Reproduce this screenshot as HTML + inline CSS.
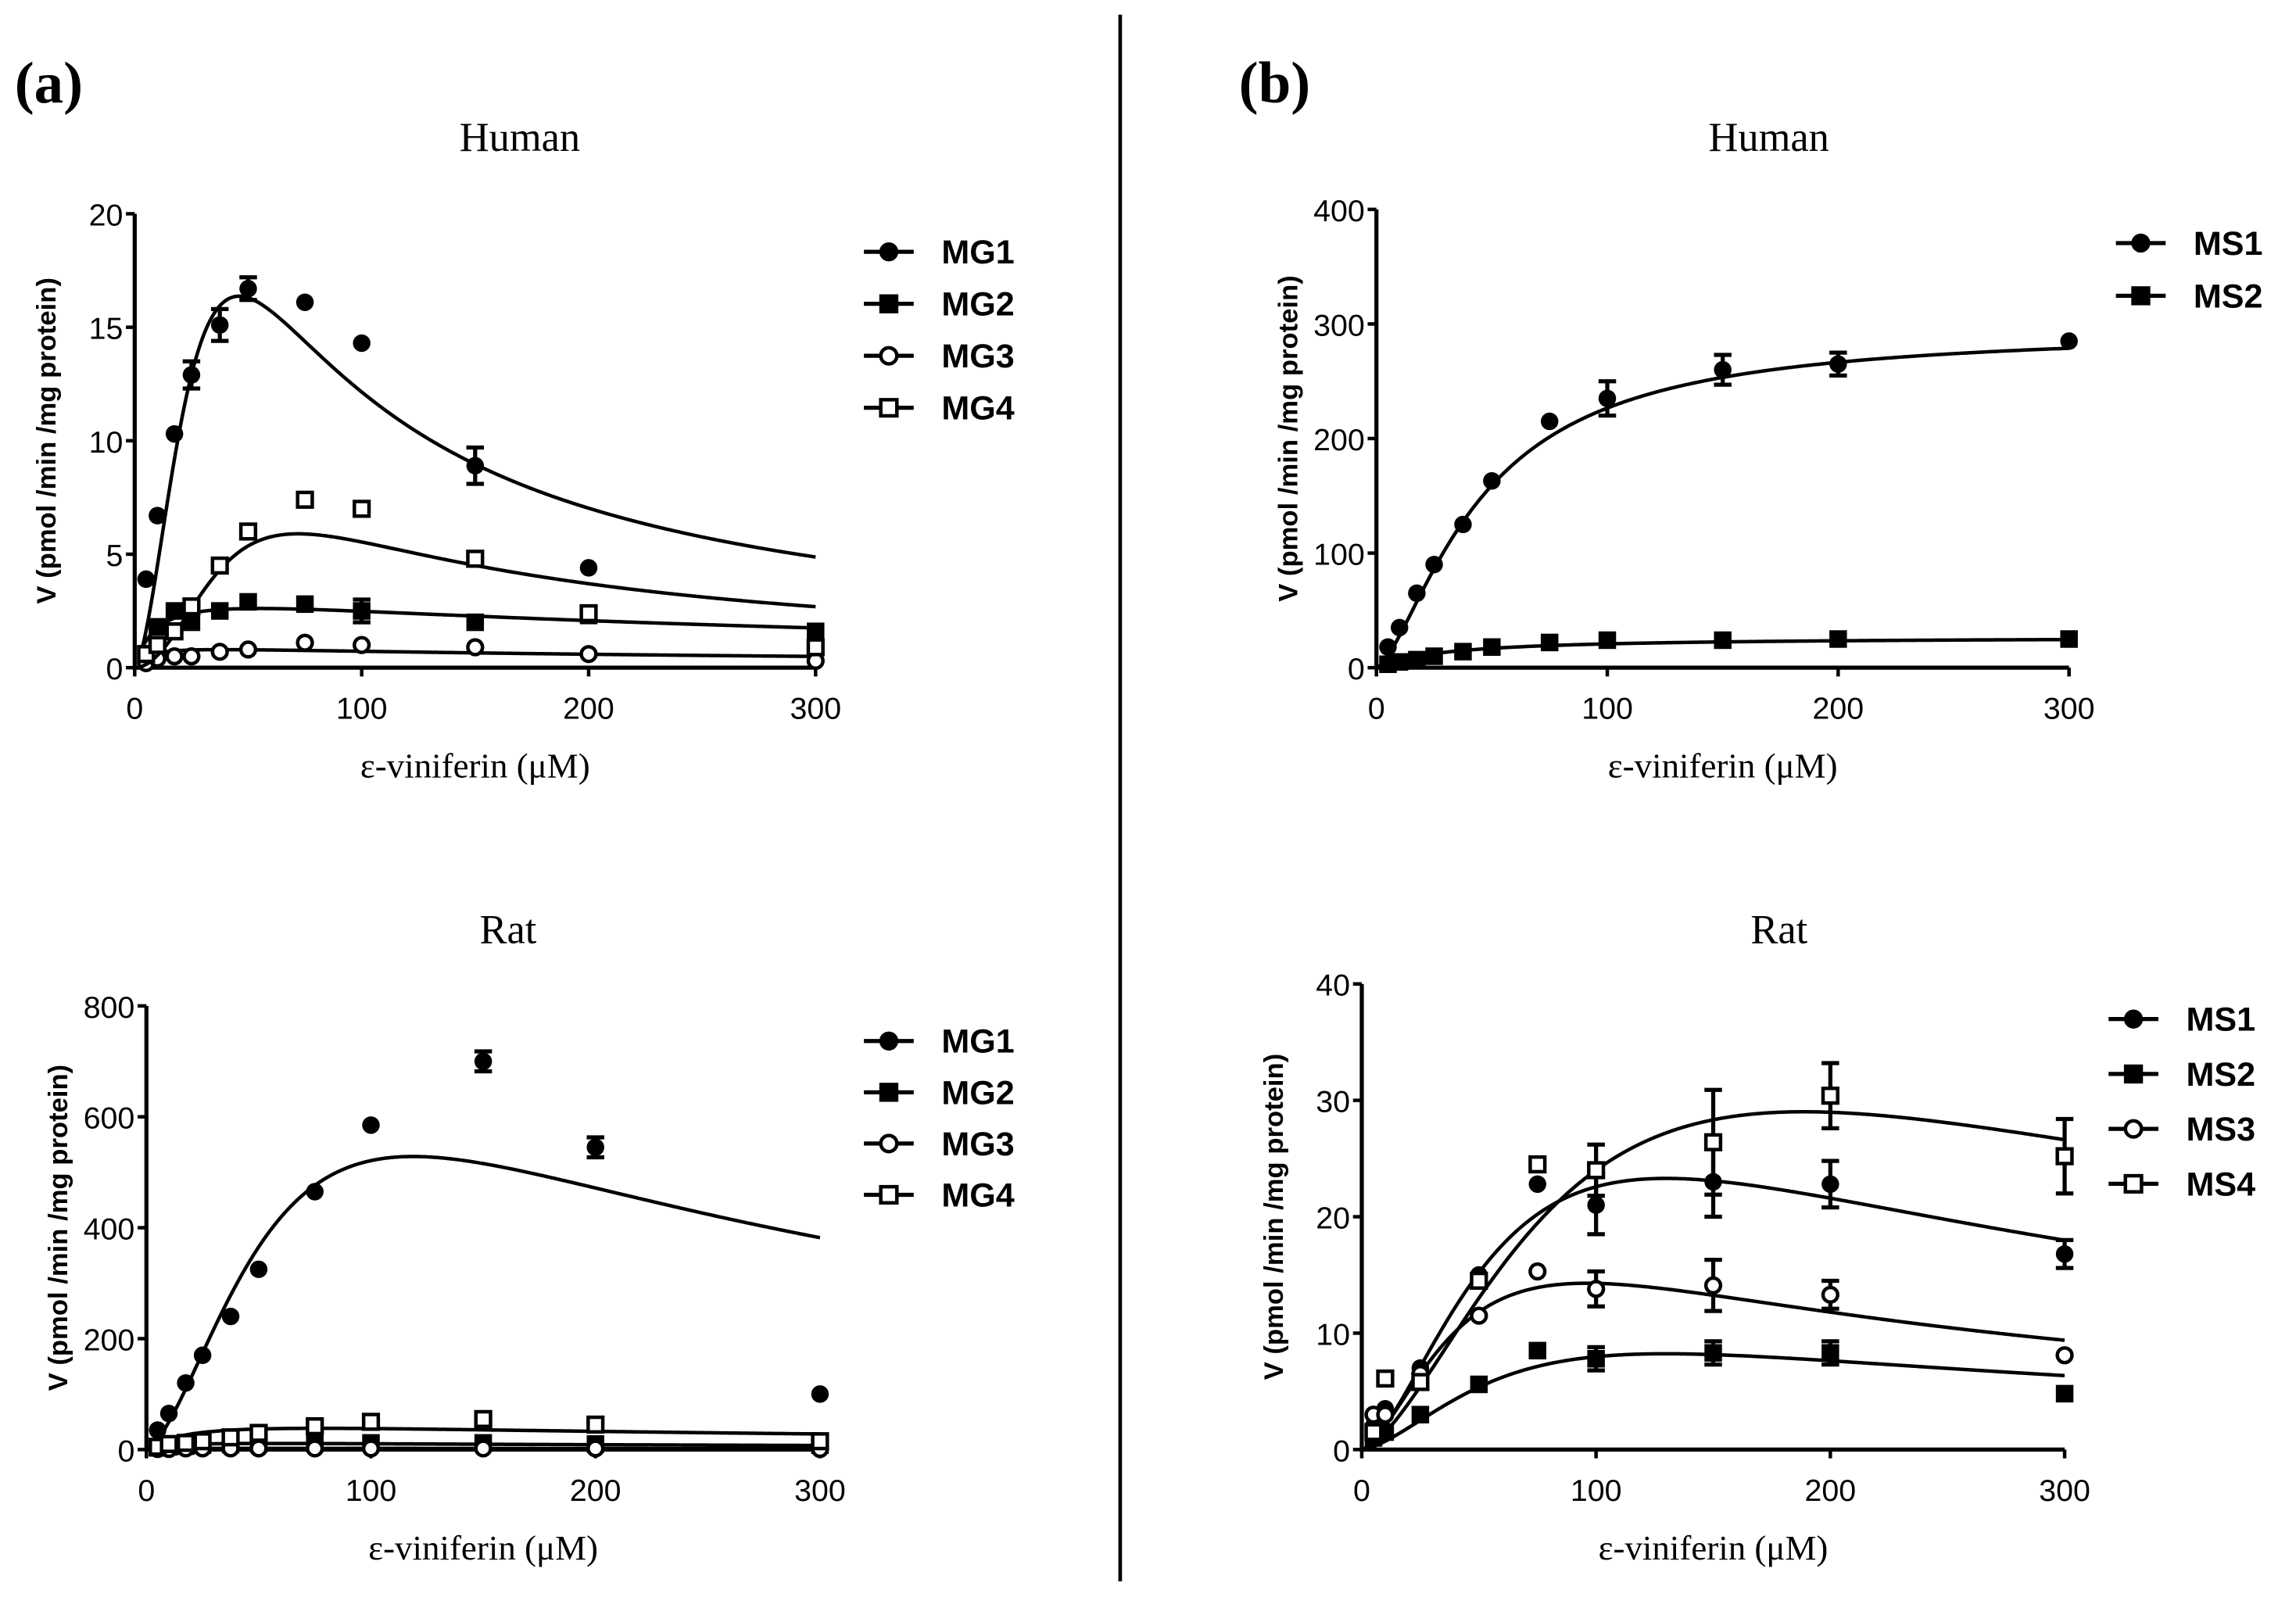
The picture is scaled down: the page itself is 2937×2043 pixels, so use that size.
<!DOCTYPE html>
<html><head><meta charset="utf-8"><style>
html,body{margin:0;padding:0;background:#fff;}
svg{display:block;}
.tick{font-family:"Liberation Sans",sans-serif;font-size:21px;}
.ser{font-family:"Liberation Serif",serif;}
.leg{font-family:"Liberation Sans",sans-serif;font-size:23px;font-weight:bold;}
.ytl{font-family:"Liberation Sans",sans-serif;font-size:18.5px;font-weight:bold;}
</style></head><body>
<svg id="fig" width="2937" height="2043" viewBox="0 0 1568 1090.7" xmlns="http://www.w3.org/2000/svg">
<text class="ser" x="10" y="70" font-size="40" font-weight="bold">(a)</text>
<text class="ser" x="846" y="70" font-size="40" font-weight="bold">(b)</text>
<line x1="765" y1="10" x2="765" y2="1080" stroke="#000" stroke-width="2.5"/>
</svg>
<script>
// ---- Panel a Human ----
const aH_x = [5,10,17.5,25,37.5,50,75,100,150,200,300];
const aH_MG1 = [3.9,6.7,10.3,12.9,15.1,16.7,16.1,14.3,8.9,4.4,null];
const aH_MG1_err = [0,0,0,0.6,0.7,0.5,0,0,0.8,0,0];
const aH_MG2 = [0.5,1.8,2.5,2.0,2.5,2.9,2.8,2.5,2.0,2.3,1.6];
const aH_MG2_err = [0,0,0,0,0,0,0,0.5,0,0.2,0];
const aH_MG3 = [0.2,0.4,0.5,0.5,0.7,0.8,1.1,1.0,0.9,0.6,0.3];
const aH_MG4 = [0.6,1.0,1.6,2.7,4.5,6.0,7.4,7.0,4.8,2.4,0.9];
const aH_yticks = [0,5,10,15,20];
// ---- Panel b Human ----
const bH_x = [5,10,17.5,25,37.5,50,75,100,150,200,300];
const bH_MS1 = [18,35,65,90,125,163,215,235,260,265,285];
const bH_MS1_err = [0,0,0,0,0,0,0,15,13,10,0];
const bH_MS2 = [3,5,7,10,14,18,22,24,24,25,25];
const bH_yticks = [0,100,200,300,400];
// ---- Panel a Rat ----
const aR_x = [5,10,17.5,25,37.5,50,75,100,150,200,300];
const aR_MG1 = [35,65,120,170,240,325,465,585,700,545,100];
const aR_MG1_err = [0,0,0,0,0,0,0,0,18,18,0];
const aR_MG2 = [3,5,6,8,9,10,11,12,12,10,8];
const aR_MG3 = [1,1,2,2,2,2,2,2,2,2,1];
const aR_MG4 = [5,10,12,15,22,30,42,50,55,45,15];
const aR_yticks = [0,200,400,600,800];
// ---- Panel b Rat ----
const bR_x = [5,10,25,50,75,100,150,200,300];
const bR_MS1 = [2,3.5,7,15,22.8,21,23,22.8,16.8];
const bR_MS1_err = [0,0,0,0,0,2.5,3,2,1.2];
const bR_MS2 = [1,1.5,3,5.6,8.5,7.8,8.3,8.3,4.8];
const bR_MS2_err = [0,0,0,0,0,1,1,1,0];
const bR_MS3 = [3,3,6.5,11.5,15.3,13.8,14.1,13.3,8.1];
const bR_MS3_err = [0,0,0,0,0,1.5,2.2,1.2,0];
const bR_MS4 = [1.5,6.1,5.8,14.5,24.5,24,26.4,30.4,25.2];
const bR_MS4_err = [0,0,0,0,0,2.2,4.5,2.8,3.2];
const bR_yticks = [0,10,20,30,40];
const xticks = [0,100,200,300];
// fitted model parameters [Vmax, K, n, Ki]
const fit_aH = {MG1:[76.6,58,1.56,20.5],MG2:[3.56,10,1,300],MG3:[1.0,5,1,300],MG4:[18.1,60,1.94,52.7]};
const fit_bH = {MS1:[295,45,1.5,1e9],MS2:[27,30,1,1e9]};
const fit_aR = {MG1:[1400,90,1.5,120],MG2:[15,10,1,300],MG3:[3,10,1,300],MG4:[58,20,1,300]};
const fit_bR = {MS1:[56.9,90,1.5,150],MS2:[20.1,90,1.5,150],MS3:[31.9,60,1.5,130],MS4:[70.5,130,1.5,220]};

const NS='http://www.w3.org/2000/svg';
const svg=document.getElementById('fig');
function mk(tag,attrs,parent){const e=document.createElementNS(NS,tag);for(const k in attrs)e.setAttribute(k,attrs[k]);(parent||svg).appendChild(e);return e;}
function model(p,S){const [V,K,n,Ki]=p;return V/(Math.pow(K/S,n)+1+S/Ki);}
function marker(g,type,cx,cy,size){
  let e;
  if(type==='fc'){e=mk('circle',{cx:cx,cy:cy,r:size,fill:'#000'},g);}
  else if(type==='fs'){e=mk('rect',{x:cx-size,y:cy-size,width:2*size,height:2*size,fill:'#000'},g);}
  else if(type==='oc'){e=mk('circle',{cx:cx,cy:cy,r:size-1,fill:'#fff',stroke:'#000','stroke-width':2.4},g);}
  else {e=mk('rect',{x:cx-size+1,y:cy-size+1,width:2*size-2,height:2*size-2,fill:'#fff',stroke:'#000','stroke-width':2.4},g);}
  return e;
}
function panel(cfg){
  const g=mk('g',{});
  
  
  const X=v=>cfg.x0+(v/300)*(cfg.x1-cfg.x0);
  const Y=v=>cfg.y0-(v/cfg.ymax)*(cfg.y0-cfg.y1);
  const t=mk('text',{class:'ser',x:cfg.tx,y:cfg.ty,'font-size':28,'text-anchor':'middle'},g);t.textContent=cfg.title;
  
  
  const ax=mk('path',{d:`M${cfg.x0} ${cfg.y1} V${cfg.y0} H${cfg.x1}`,fill:'none',stroke:'#000','stroke-width':2.8},g);
  
  
  cfg.yticks.forEach(v=>{
    mk('line',{x1:cfg.x0-6,x2:cfg.x0,y1:Y(v),y2:Y(v),stroke:'#000','stroke-width':2.4},g);
    const l=mk('text',{class:'tick',x:cfg.x0-8,y:Y(v)+8,'text-anchor':'end'},g);l.textContent=v;
    
    
  });
  xticks.forEach(v=>{
    mk('line',{x1:X(v),x2:X(v),y1:cfg.y0,y2:cfg.y0+6,stroke:'#000','stroke-width':2.4},g);
    const l=mk('text',{class:'tick',x:X(v),y:cfg.y0+35,'text-anchor':'middle'},g);l.textContent=v;
    
    
  });
  const xt=mk('text',{class:'ser',x:(cfg.x0+cfg.x1)/2,y:cfg.y0+75,'font-size':24,'text-anchor':'middle'},g);xt.textContent='ε-viniferin (μM)';
  
  
  const yc=(cfg.y0+cfg.y1)/2;
  const yt=mk('text',{class:'ytl',x:0,y:0,'text-anchor':'middle',transform:`translate(${cfg.x0-54},${yc}) rotate(-90)`},g);yt.textContent='V (pmol /min /mg protein)';
  
  
  cfg.series.forEach((s,i)=>{
    const sg=mk('g',{},g);
    
    
    let d='';
    for(let S=cfg.cstart;S<=300;S+=1){const v=model(s.fit,S);d+=(d?'L':'M')+X(S).toFixed(2)+' '+Y(Math.min(v,cfg.ymax)).toFixed(2);}
    const c=mk('path',{d:d,fill:'none',stroke:'#000','stroke-width':2.4},sg);
    
    
    cfg.xs.forEach((xv,j)=>{
      const v=s.y[j]; if(v===null||v===undefined) return;
      const e=s.err?s.err[j]:0;
      if(e>0){
        const eb=mk('path',{d:`M${X(xv)} ${Y(v-e)} V${Y(v+e)} M${X(xv)-6} ${Y(v-e)} H${X(xv)+6} M${X(xv)-6} ${Y(v+e)} H${X(xv)+6}`,stroke:'#000','stroke-width':2.8,fill:'none'},sg);
        
        
      }
      const m=marker(sg,s.type,X(xv),Y(v),6);
      
      
    });
    const ly=cfg.ly+i*cfg.lstep;
    const lg=mk('g',{},g);
    
    
    mk('line',{x1:cfg.lx,x2:cfg.lx+34,y1:ly,y2:ly,stroke:'#000','stroke-width':2.8},lg);
    marker(lg,s.type,cfg.lx+17,ly,6.5);
    const lt=mk('text',{class:'leg',x:cfg.lx+53,y:ly+8},lg);lt.textContent=s.label;
  });
}
panel({name:'chart-a-human',title:'Human',tx:355,ty:103,x0:92,x1:557,y0:456,y1:146,ymax:20,yticks:aH_yticks,xs:aH_x,cstart:2,
  lx:590,ly:172,lstep:35.5,
  series:[{label:'MG1',type:'fc',y:aH_MG1,err:aH_MG1_err,fit:fit_aH.MG1},{label:'MG2',type:'fs',y:aH_MG2,err:aH_MG2_err,fit:fit_aH.MG2},
  {label:'MG3',type:'oc',y:aH_MG3,fit:fit_aH.MG3},{label:'MG4',type:'os',y:aH_MG4,fit:fit_aH.MG4}]});
panel({name:'chart-b-human',title:'Human',tx:1208,ty:103,x0:940,x1:1413,y0:456,y1:143,ymax:400,yticks:bH_yticks,xs:bH_x,cstart:1,
  lx:1445,ly:166,lstep:36,
  series:[{label:'MS1',type:'fc',y:bH_MS1,err:bH_MS1_err,fit:fit_bH.MS1},{label:'MS2',type:'fs',y:bH_MS2,fit:fit_bH.MS2}]});
panel({name:'chart-a-rat',title:'Rat',tx:347,ty:644,x0:100,x1:560,y0:990,y1:687,ymax:800,yticks:aR_yticks,xs:aR_x,cstart:1,
  lx:590,ly:711,lstep:35,
  series:[{label:'MG1',type:'fc',y:aR_MG1,err:aR_MG1_err,fit:fit_aR.MG1},{label:'MG2',type:'fs',y:aR_MG2,fit:fit_aR.MG2},
  {label:'MG3',type:'oc',y:aR_MG3,fit:fit_aR.MG3},{label:'MG4',type:'os',y:aR_MG4,fit:fit_aR.MG4}]});
panel({name:'chart-b-rat',title:'Rat',tx:1215,ty:644,x0:930,x1:1410,y0:990,y1:672,ymax:40,yticks:bR_yticks,xs:bR_x,cstart:1,
  lx:1440,ly:696,lstep:37.5,
  series:[{label:'MS1',type:'fc',y:bR_MS1,err:bR_MS1_err,fit:fit_bR.MS1},{label:'MS2',type:'fs',y:bR_MS2,err:bR_MS2_err,fit:fit_bR.MS2},
  {label:'MS3',type:'oc',y:bR_MS3,err:bR_MS3_err,fit:fit_bR.MS3},{label:'MS4',type:'os',y:bR_MS4,err:bR_MS4_err,fit:fit_bR.MS4}]});
</script>
</body></html>
